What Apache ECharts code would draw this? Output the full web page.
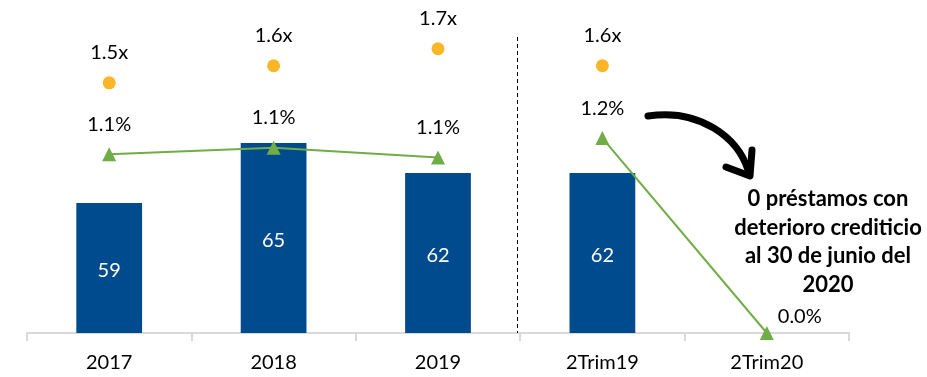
<!DOCTYPE html>
<html>
<head>
<meta charset="utf-8">
<script src="https://cdn.jsdelivr.net/npm/echarts@6/dist/echarts.min.js"></script>
<style>
  html, body { margin: 0; padding: 0; background: #fff; }
  #chart { width: 927px; height: 377px; }
</style>
</head>
<body>
<div id="chart"></div>
<script>
// Periods shown on the category axis
const categories = ['2017', '2018', '2019', '2Trim19', '2Trim20'];
// Bar values (no bar for the last period)
const barValues = [59, 65, 62, 62, null];
// Ratio line, in percent
const ratioPct = [1.10, 1.14, 1.08, 1.20, 0.00];
// Index where the quarterly periods start (the line is not joined across it)
const quarterStart = 3;
// Coverage multiple shown as dots
const coverageX = [1.5, 1.6, 1.7, 1.6, null];
// Side note
const noteLines = ['0 préstamos con', 'deterioro crediticio', 'al 30 de junio del', '2020'];

const FONT = 'Lato, "Noto Sans", sans-serif';
const BLUE = '#004B8D';
const GREEN = '#70AD47';
const ORANGE = '#FBB627';

const chart = echarts.init(document.getElementById('chart'));

const labelBase = { fontFamily: FONT, fontSize: 20, color: '#000' };

// One line piece for the annual periods, one for the quarterly ones
function ratioPiece(fromIdx, toIdx) {
  return ratioPct.map((v, i) => {
    if (i < fromIdx || i >= toIdx) return '-';
    if (i === ratioPct.length - 1) {
      return { value: v, label: { position: 'right', distance: 4, offset: [0, -16] } };
    }
    return v;
  });
}

function ratioSeries(data) {
  return {
    type: 'line',
    yAxisIndex: 1,
    data: data,
    symbol: 'triangle',
    symbolSize: 14,
    showAllSymbol: true,
    connectNulls: false,
    lineStyle: { color: GREEN, width: 2 },
    itemStyle: { color: GREEN },
    label: Object.assign({
      show: true,
      position: 'top',
      distance: 13,
      formatter: p => p.value.toFixed(1) + '%'
    }, labelBase),
    z: 4
  };
}

chart.setOption({
  animation: false,
  backgroundColor: '#fff',
  grid: { left: 27, right: 78, top: 13, bottom: 44 },
  xAxis: {
    type: 'category',
    data: categories,
    axisLine: { lineStyle: { color: '#D9D9D9', width: 2 } },
    axisTick: { show: true, length: 8, lineStyle: { color: '#D9D9D9', width: 2 } },
    axisLabel: { margin: 20, fontFamily: FONT, fontSize: 20, color: '#000' }
  },
  yAxis: [
    { type: 'value', min: 46, max: 78, show: false, splitLine: { show: false } },
    { type: 'value', min: 0, max: 1.97, show: false, splitLine: { show: false } },
    { type: 'value', min: 0.03, max: 1.91, show: false, splitLine: { show: false } }
  ],
  series: [
    {
      type: 'bar',
      yAxisIndex: 0,
      data: barValues.map(v => (v == null ? '-' : v)),
      barWidth: '40%',
      itemStyle: { color: BLUE },
      label: {
        show: true,
        position: 'inside',
        fontFamily: FONT,
        fontSize: 20,
        color: '#fff',
        offset: [0, 3]
      },
      z: 2
    },
    ratioSeries(ratioPiece(0, quarterStart)),
    ratioSeries(ratioPiece(quarterStart, ratioPct.length)),
    {
      type: 'scatter',
      yAxisIndex: 2,
      data: coverageX.map(v => (v == null ? '-' : v)),
      symbol: 'circle',
      symbolSize: 13,
      itemStyle: { color: ORANGE, opacity: 1 },
      label: Object.assign({
        show: true,
        position: 'top',
        distance: 14,
        formatter: p => p.value.toFixed(1) + 'x'
      }, labelBase),
      z: 4
    }
  ]
});

// Separator between annual and quarterly periods, and the side note with its arrow
const xA = chart.convertToPixel({ xAxisIndex: 0 }, quarterStart - 1);
const xB = chart.convertToPixel({ xAxisIndex: 0 }, quarterStart);
const sepX = Math.round((xA + xB) / 2) - 2.5;
const axisY = chart.convertToPixel({ yAxisIndex: 1 }, 0);

chart.setOption({
  graphic: [
    {
      type: 'line',
      shape: { x1: sepX, y1: 37, x2: sepX, y2: axisY },
      style: { stroke: '#000', lineWidth: 1, lineDash: [4, 3] },
      z: 10
    },
    {
      type: 'bezierCurve',
      shape: { x1: 648, y1: 116, cpx1: 700, cpy1: 108, cpx2: 738, cpy2: 138, x2: 748, y2: 170 },
      style: { stroke: '#000', lineWidth: 7, fill: null, lineCap: 'round' },
      z: 10
    },
    {
      type: 'polyline',
      shape: { points: [[726, 167], [750, 176], [752, 150]] },
      style: { stroke: '#000', lineWidth: 7, fill: null, lineCap: 'round', lineJoin: 'round' },
      z: 10
    },
    {
      type: 'text',
      x: 828,
      y: 242,
      style: {
        text: noteLines.join('\n'),
        fontFamily: FONT,
        fontWeight: 'bold',
        fontSize: 22,
        lineHeight: 28.5,
        fill: '#000',
        align: 'center',
        verticalAlign: 'middle'
      },
      z: 10
    }
  ]
});
</script>
</body>
</html>
